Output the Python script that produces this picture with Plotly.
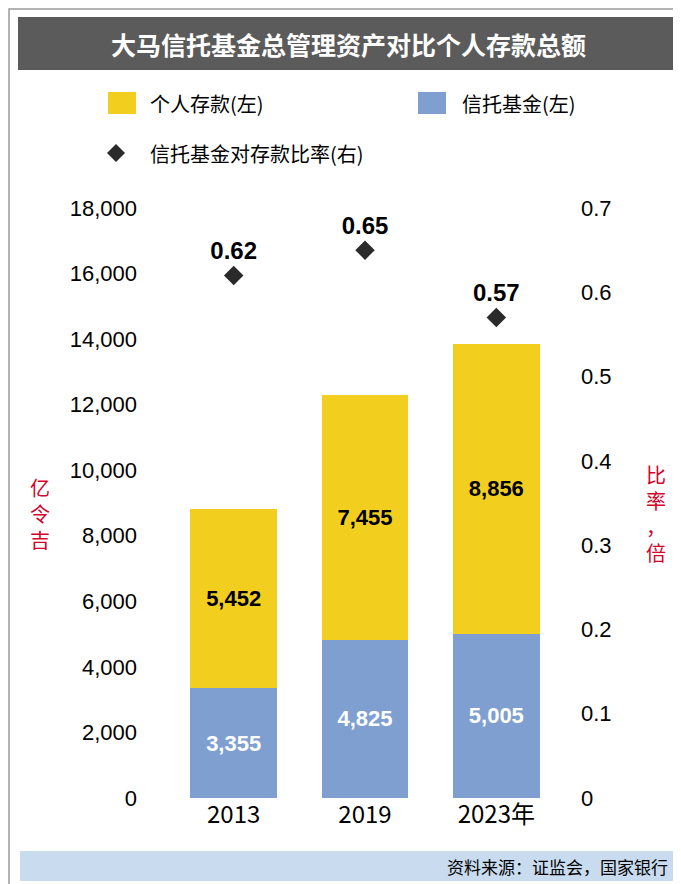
import plotly.graph_objects as go

years = ["2013", "2019", "2023年"]
deposits = [5452, 7455, 8856]
unit_trust = [3355, 4825, 5005]
ratio = [0.62, 0.65, 0.57]
left_ticks = [0, 2000, 4000, 6000, 8000, 10000, 12000, 14000, 16000, 18000]
right_ticks = [0, 0.1, 0.2, 0.3, 0.4, 0.5, 0.6, 0.7]

W, H = 681, 884
L, R, T, B = 160, 127, 200, 94
FONT = "Noto Sans CJK SC"
def px(x): return (x - L) / (W - L - R)
def py(y): return (H - B - y) / (H - T - B)

fig = go.Figure()
fig.add_bar(x=years, y=unit_trust, marker_color="#7e9fcf", marker_line_width=0,
            text=[f"{v:,}" for v in unit_trust], textposition="inside", insidetextanchor="middle",
            textfont=dict(color="white", size=22, family="Liberation Sans"), texttemplate="<b>%{text}</b>")
fig.add_bar(x=years, y=deposits, marker_color="#f2cf1f", marker_line_width=0,
            text=[f"{v:,}" for v in deposits], textposition="inside", insidetextanchor="middle",
            textfont=dict(color="black", size=22, family="Liberation Sans"), texttemplate="<b>%{text}</b>")
fig.add_scatter(x=years, y=ratio, yaxis="y2", mode="markers+text", cliponaxis=False,
                marker=dict(symbol="diamond", size=15, color="#2a2a2a"),
                text=[f"<b>{v:.2f}</b>" for v in ratio], textposition="top center",
                textfont=dict(size=24, color="black", family="Liberation Sans"))

shapes = [
    dict(type="rect", xref="paper", yref="paper", x0=px(1), x1=px(680), y0=py(883), y1=py(1),
         line=dict(color="#9a9a9a", width=1.5), fillcolor="rgba(0,0,0,0)", layer="below"),
    dict(type="rect", xref="paper", yref="paper", x0=px(10), x1=px(671), y0=py(62), y1=py(9),
         line_width=0, fillcolor="#5b5b5b"),
    dict(type="rect", xref="paper", yref="paper", x0=px(12), x1=px(669), y0=py(873), y1=py(843),
         line_width=0, fillcolor="#c9dcef"),
    dict(type="rect", xref="paper", yref="paper", x0=px(100), x1=px(128), y0=py(106), y1=py(84),
         line_width=0, fillcolor="#f2cf1f"),
    dict(type="rect", xref="paper", yref="paper", x0=px(410), x1=px(438), y0=py(106), y1=py(84),
         line_width=0, fillcolor="#7e9fcf"),
    dict(type="path", xref="paper", yref="paper",
         path=f"M {px(108)} {py(136)} L {px(117)} {py(145)} L {px(108)} {py(154)} L {px(99)} {py(145)} Z",
         fillcolor="#2a2a2a", line_width=0),
]

def ann(x, y, text, size, color="black", xanchor="left", **kw):
    return dict(xref="paper", yref="paper", x=px(x), y=py(y), text=text, showarrow=False,
                xanchor=xanchor, yanchor="middle", font=dict(size=size, color=color, family=FONT), **kw)

annotations = [
    ann(340, 36, "<b>大马信托基金总管理资产对比个人存款总额</b>", 25, "white", "center"),
    ann(140, 95, "个人存款(左)", 20),
    ann(452, 95, "信托基金(左)", 20),
    ann(140, 145, "信托基金对存款比率(右)", 20),
    ann(32, 505, "亿<br>令<br>吉", 20, "#d4002a", "center"),
    ann(648, 505, "比<br>率<br>，<br>倍", 20, "#d4002a", "center"),
    ann(662, 858, "资料来源：证监会，国家银行", 17, "black", "right"),
]

fig.update_layout(
    width=W, height=H, barmode="stack", bargap=0.34, showlegend=False,
    paper_bgcolor="white", plot_bgcolor="white",
    margin=dict(l=L, r=R, t=T, b=B, autoexpand=False),
    font=dict(family="Liberation Sans", color="black"),
    xaxis=dict(tickfont=dict(size=24, family=FONT), showline=False, ticks=""),
    yaxis=dict(range=[0, 18000], tickvals=left_ticks, tickformat=",", showgrid=False,
               tickfont=dict(size=22), ticklabelstandoff=30, zeroline=False),
    yaxis2=dict(range=[0, 0.7], tickvals=right_ticks, overlaying="y", side="right", showgrid=False,
                tickfont=dict(size=22), ticklabelstandoff=18, zeroline=False),
    shapes=shapes, annotations=annotations,
)
fig.write_html("out.html")
